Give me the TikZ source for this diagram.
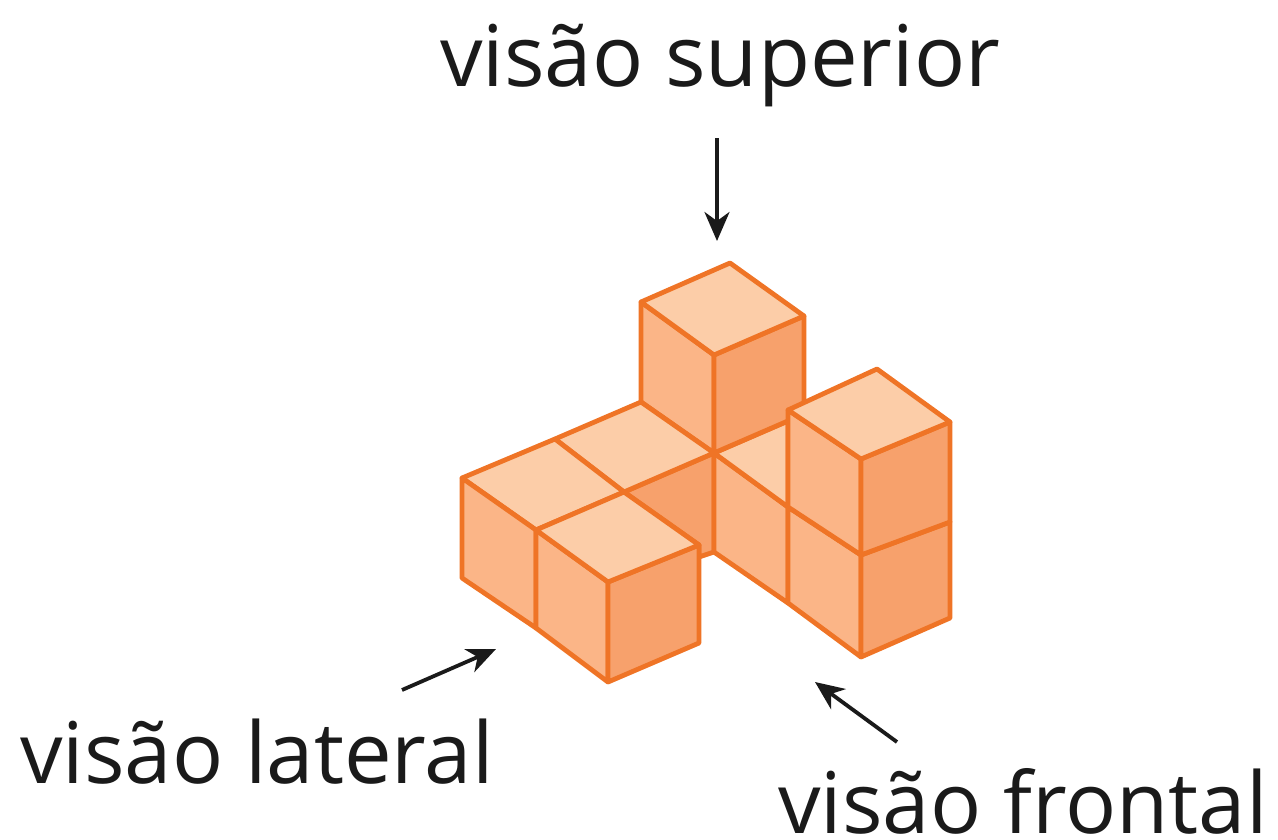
\documentclass[tikz,border=0pt]{standalone}
\usepackage{fontspec}
\usetikzlibrary{arrows.meta}
\setmainfont{Open Sans}
\begin{document}
\begin{tikzpicture}[x=1pt,y=-1pt,
  edge/.style={draw=cubeline,line width=4.8pt,line join=round,line cap=round},
  topf/.style={fill=cubetop,edge},
  leftf/.style={fill=cubeleft,edge},
  rightf/.style={fill=cuberight,edge},
  label/.style={anchor=base west,inner sep=0pt,text=ink,font=\fontsize{85}{90}\selectfont},
  pointer/.style={draw=ink,line width=3.8pt,-{Stealth[length=29pt,width=25pt,inset=9pt]}}]
\definecolor{cubetop}{HTML}{FCCDA8}
\definecolor{cubeleft}{HTML}{FBB587}
\definecolor{cuberight}{HTML}{F7A16C}
\definecolor{cubeline}{HTML}{EF7426}
\definecolor{ink}{HTML}{1A1A1A}
\useasboundingbox (0,0) rectangle (1278,839);
% inner floor face and faces behind
\path[rightf] (714,453) -- (714,552) -- (699,557) -- (699,545) -- (624,492) -- cycle;
\path[leftf] (714,453) -- (788,507) -- (788,603) -- (714,552) -- cycle;
\path[topf] (714,453) -- (788,421) -- (788,507) -- cycle;
% tall cube at the back
\path[leftf] (641,302) -- (714,355) -- (714,453) -- (641,402) -- cycle;
\path[rightf] (714,355) -- (804,316) -- (804,414) -- (714,453) -- cycle;
\path[topf] (730,263) -- (804,316) -- (714,355) -- (641,302) -- cycle;
% left row tops
\path[topf] (555,439) -- (641,402) -- (714,453) -- (624,492) -- cycle;
\path[topf] (462,478) -- (555,439) -- (624,492) -- (536,530) -- cycle;
% left row front
\path[leftf] (462,478) -- (536,530) -- (536,628) -- (462,578) -- cycle;
\path[leftf] (536,530) -- (608,582) -- (608,682) -- (536,628) -- cycle;
\path[rightf] (608,582) -- (699,545) -- (699,643) -- (608,682) -- cycle;
\path[topf] (624,492) -- (699,545) -- (608,582) -- (536,530) -- cycle;
% right stack
\path[leftf] (788,507) -- (861,555) -- (861,657) -- (788,603) -- cycle;
\path[rightf] (861,555) -- (950,522) -- (950,618) -- (861,657) -- cycle;
\path[leftf] (788,410) -- (861,459) -- (861,555) -- (788,507) -- cycle;
\path[rightf] (861,459) -- (950,422) -- (950,522) -- (861,555) -- cycle;
\path[topf] (877,369) -- (950,422) -- (861,459) -- (788,410) -- cycle;
% labels
\node[label] (sup) at (440,86) {visão superior};
\node[label] (lat) at (20,783) {visão lateral};
\node[label] (fro) at (778,833) {visão frontal};
% pointers
\coordinate (supA) at (717,138);
\coordinate (supB) at (717,241);
\coordinate (latA) at (402,690);
\coordinate (latB) at (496,649);
\coordinate (froA) at (897,742);
\coordinate (froB) at (815,682);
\draw[pointer] (supA) -- (supB);
\draw[pointer] (latA) -- (latB);
\draw[pointer] (froA) -- (froB);
\end{tikzpicture}
\end{document}
